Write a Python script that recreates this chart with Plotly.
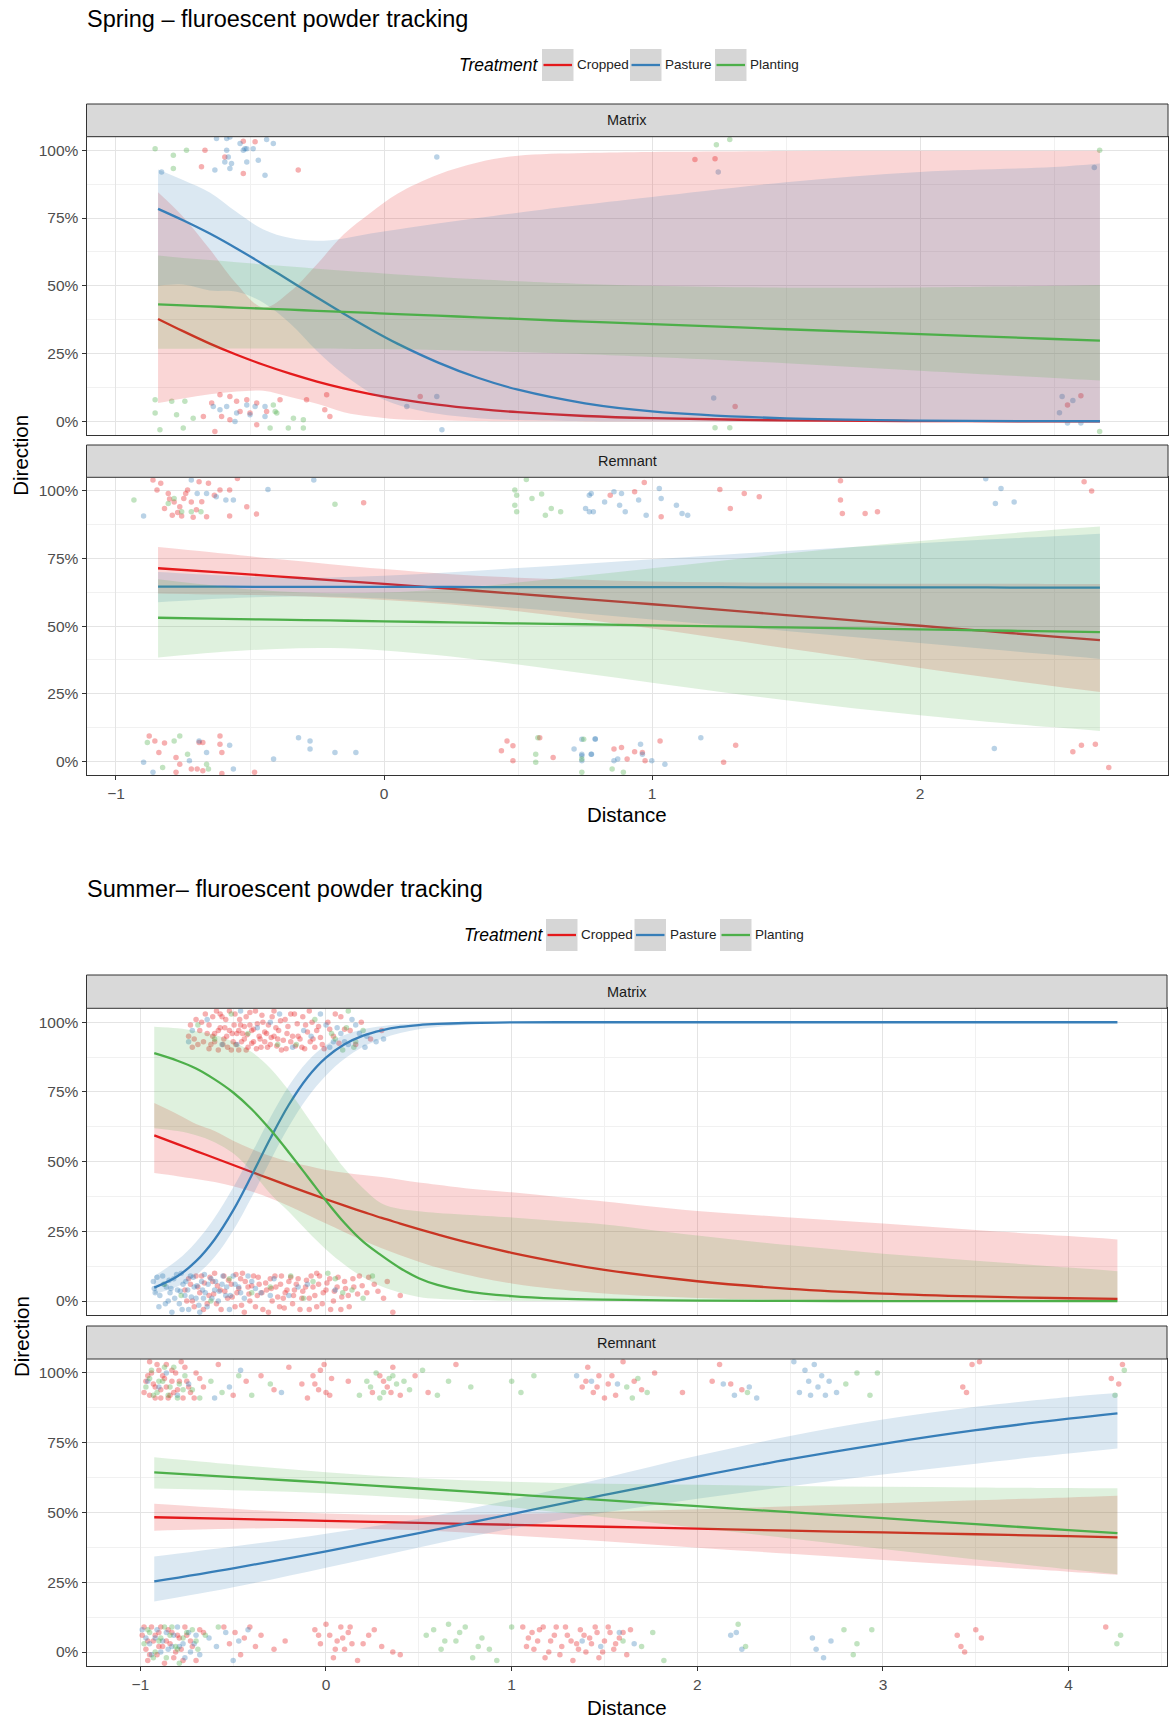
import plotly.graph_objects as go

# ---------------------------------------------------------------- data
TREATMENTS = ["Cropped", "Pasture", "Planting"]
COLORS = {"Cropped": "#E41A1C", "Pasture": "#377EB8", "Planting": "#4DAF4A"}

Y_TICKS = [0, 0.25, 0.5, 0.75, 1.0]
Y_TICK_TEXT = ["0%", "25%", "50%", "75%", "100%"]
SPRING_X_TICKS = [-1, 0, 1, 2]
SPRING_X_TEXT = ["\u22121", "0", "1", "2"]
SUMMER_X_TICKS = [-1, 0, 1, 2, 3, 4]
SUMMER_X_TEXT = ["\u22121", "0", "1", "2", "3", "4"]

# Spring / Matrix fitted curves
spr_mat_x = [-0.843, -0.75, -0.65, -0.55, -0.45, -0.35, -0.25, -0.15, -0.05, 0.05,
             0.2, 0.35, 0.5, 0.75, 1.0, 1.5, 2.0, 2.5, 2.671]
spr_mat_crop_fit = [0.378, 0.333, 0.287, 0.246, 0.209, 0.176, 0.147, 0.122, 0.101, 0.0835,
                    0.062, 0.046, 0.034, 0.020, 0.012, 0.0042, 0.0014, 0.0005, 0.00035]
spr_mat_crop_hi = [0.845, 0.755, 0.635, 0.507, 0.42, 0.479, 0.58, 0.69, 0.77, 0.84,
                   0.91, 0.955, 0.98, 0.99, 0.994, 0.997, 0.998, 0.998, 0.998]
spr_mat_crop_lo = [0.068, 0.085, 0.10, 0.11, 0.113, 0.09, 0.065, 0.034, 0.018, 0.008,
                   0.004, 0.0015, 0.0005, 0.0002, 0.0001, 0.0, 0.0, 0.0, 0.0]
spr_mat_past_fit = [0.784, 0.742, 0.693, 0.638, 0.579, 0.518, 0.457, 0.397, 0.340, 0.287,
                    0.218, 0.161, 0.117, 0.067, 0.0374, 0.0112, 0.0033, 0.00097, 0.00064]
spr_mat_past_hi = [0.929, 0.89, 0.844, 0.772, 0.708, 0.676, 0.666, 0.675, 0.693, 0.708,
                   0.73, 0.75, 0.77, 0.80, 0.828, 0.882, 0.92, 0.938, 0.951]
spr_mat_past_lo = [0.50, 0.505, 0.483, 0.478, 0.438, 0.361, 0.26, 0.173, 0.105, 0.062,
                   0.028, 0.012, 0.0053, 0.0013, 0.0003, 0.00002, 0.0, 0.0, 0.0]
spr_mat_plant_fit = [0.432, 0.428, 0.424, 0.420, 0.416, 0.412, 0.408, 0.404, 0.400, 0.396,
                     0.390, 0.384, 0.378, 0.368, 0.359, 0.340, 0.322, 0.304, 0.298]
spr_mat_plant_hi = [0.612, 0.603, 0.595, 0.587, 0.579, 0.571, 0.563, 0.556, 0.549, 0.542,
                    0.533, 0.524, 0.517, 0.507, 0.500, 0.493, 0.494, 0.500, 0.503]
spr_mat_plant_lo = [0.268, 0.268, 0.269, 0.269, 0.269, 0.269, 0.269, 0.268, 0.267, 0.266,
                    0.263, 0.260, 0.256, 0.248, 0.238, 0.215, 0.187, 0.160, 0.151]

# Spring / Remnant fitted curves
spr_rem_x = [-0.843, -0.6, -0.4, -0.2, 0, 0.25, 0.5, 0.75, 1.0, 1.25, 1.5, 1.75, 2.0,
             2.25, 2.5, 2.671]
spr_rem_crop_fit = [0.714, 0.698, 0.684, 0.670, 0.656, 0.638, 0.619, 0.600, 0.581, 0.561,
                    0.541, 0.521, 0.5015, 0.4815, 0.4616, 0.448]
spr_rem_crop_hi = [0.792, 0.768, 0.748, 0.729, 0.711, 0.692, 0.679, 0.671, 0.665, 0.662,
                   0.660, 0.658, 0.657, 0.657, 0.656, 0.656]
spr_rem_crop_lo = [0.621, 0.617, 0.613, 0.606, 0.597, 0.580, 0.555, 0.525, 0.491, 0.455,
                   0.418, 0.382, 0.345, 0.311, 0.278, 0.257]
spr_rem_past_fit = [0.646, 0.646, 0.645, 0.645, 0.645, 0.645, 0.644, 0.644, 0.644, 0.644,
                    0.643, 0.643, 0.643, 0.643, 0.642, 0.642]
spr_rem_past_hi = [0.700, 0.687, 0.680, 0.680, 0.686, 0.699, 0.715, 0.731, 0.747, 0.763,
                   0.778, 0.792, 0.806, 0.820, 0.832, 0.841]
spr_rem_past_lo = [0.588, 0.602, 0.609, 0.609, 0.602, 0.586, 0.567, 0.547, 0.525, 0.504,
                   0.482, 0.460, 0.438, 0.416, 0.394, 0.379]
spr_rem_plant_fit = [0.531, 0.527, 0.524, 0.521, 0.518, 0.514, 0.510, 0.507, 0.503, 0.499,
                     0.4955, 0.492, 0.488, 0.484, 0.481, 0.478]
spr_rem_plant_hi = [0.673, 0.646, 0.629, 0.622, 0.624, 0.638, 0.661, 0.687, 0.714, 0.741,
                    0.768, 0.792, 0.815, 0.836, 0.856, 0.868]
spr_rem_plant_lo = [0.384, 0.405, 0.416, 0.419, 0.410, 0.388, 0.358, 0.325, 0.291, 0.258,
                    0.226, 0.197, 0.171, 0.147, 0.126, 0.113]

# Summer / Matrix fitted curves
sum_mat_x = [-0.925, -0.8, -0.7, -0.6, -0.5, -0.4, -0.3, -0.2, -0.1, 0, 0.1, 0.2, 0.3, 0.4,
             0.5, 0.6, 0.75, 1.0, 1.25, 1.5, 2.0, 2.5, 3.0, 3.5, 4.0, 4.263]
sum_mat_crop_fit = [0.594, 0.563, 0.538, 0.513, 0.488, 0.463, 0.438, 0.413, 0.389, 0.365,
                    0.342, 0.320, 0.298, 0.278, 0.258, 0.239, 0.212, 0.173, 0.140, 0.112,
                    0.071, 0.044, 0.027, 0.0165, 0.010, 0.0077]
sum_mat_crop_hi = [0.71, 0.67, 0.635, 0.61, 0.575, 0.545, 0.52, 0.50, 0.485, 0.47, 0.46,
                   0.452, 0.445, 0.435, 0.425, 0.417, 0.405, 0.39, 0.373, 0.357, 0.323,
                   0.30, 0.278, 0.255, 0.233, 0.221]
sum_mat_crop_lo = [0.459, 0.448, 0.438, 0.427, 0.412, 0.393, 0.369, 0.341, 0.310, 0.278,
                   0.247, 0.217, 0.189, 0.164, 0.141, 0.12, 0.0956, 0.0632, 0.042, 0.0267,
                   0.011, 0.0045, 0.0018, 0.0007, 0.0003, 0.0002]
sum_mat_past_fit = [0.048, 0.089, 0.143, 0.221, 0.325, 0.451, 0.583, 0.704, 0.802, 0.873,
                    0.921, 0.952, 0.971, 0.983, 0.990, 0.994, 0.9973, 0.9993, 1.0, 1.0,
                    1.0, 1.0, 1.0, 1.0, 1.0, 1.0]
sum_mat_past_hi = [0.090, 0.147, 0.212, 0.299, 0.407, 0.530, 0.658, 0.772, 0.859, 0.918,
                   0.954, 0.975, 0.986, 0.9926, 0.996, 0.9979, 0.9992, 1.0, 1.0, 1.0,
                   1.0, 1.0, 1.0, 1.0, 1.0, 1.0]
sum_mat_past_lo = [0.0248, 0.0525, 0.093, 0.158, 0.253, 0.373, 0.503, 0.626, 0.729, 0.809,
                   0.869, 0.912, 0.941, 0.961, 0.975, 0.983, 0.991, 0.997, 0.999, 0.9996,
                   1.0, 1.0, 1.0, 1.0, 1.0, 1.0]
sum_mat_plant_fit = [0.889, 0.862, 0.834, 0.795, 0.748, 0.688, 0.615, 0.533, 0.447, 0.36,
                     0.28, 0.213, 0.163, 0.118, 0.082, 0.058, 0.036, 0.018, 0.009, 0.005,
                     0.0015, 0.0004, 0.0001, 0.00003, 0.00001, 0.00001]
sum_mat_plant_hi = [0.984, 0.978, 0.968, 0.955, 0.93, 0.893, 0.835, 0.755, 0.66, 0.565,
                    0.475, 0.405, 0.35, 0.33, 0.322, 0.316, 0.31, 0.30, 0.287, 0.275,
                    0.235, 0.20, 0.17, 0.145, 0.12, 0.107]
sum_mat_plant_lo = [0.62, 0.61, 0.595, 0.57, 0.53, 0.465, 0.385, 0.32, 0.25, 0.185, 0.13,
                    0.085, 0.052, 0.03, 0.015, 0.008, 0.004, 0.001, 0.0003, 0.0001,
                    0.0, 0.0, 0.0, 0.0, 0.0, 0.0]

# Summer / Remnant fitted curves
sum_rem_x = [-0.925, -0.5, 0, 0.5, 1.0, 1.5, 2.0, 2.5, 3.0, 3.5, 4.0, 4.263]
sum_rem_crop_fit = [0.483, 0.477, 0.470, 0.463, 0.456, 0.449, 0.442, 0.435, 0.4285, 0.422,
                    0.415, 0.411]
sum_rem_crop_hi = [0.531, 0.513, 0.496, 0.490, 0.4945, 0.5025, 0.512, 0.522, 0.533, 0.544,
                   0.554, 0.560]
sum_rem_crop_lo = [0.435, 0.442, 0.444, 0.436, 0.418, 0.397, 0.374, 0.352, 0.330, 0.309,
                   0.288, 0.277]
sum_rem_past_fit = [0.253, 0.30, 0.361, 0.426, 0.4945, 0.563, 0.629, 0.691, 0.746, 0.795,
                    0.836, 0.855]
sum_rem_past_hi = [0.342, 0.378, 0.424, 0.478, 0.546, 0.624, 0.703, 0.774, 0.833, 0.879,
                   0.914, 0.928]
sum_rem_past_lo = [0.181, 0.232, 0.302, 0.375, 0.443, 0.50, 0.549, 0.594, 0.636, 0.675,
                   0.711, 0.729]
sum_rem_plant_fit = [0.644, 0.627, 0.607, 0.586, 0.565, 0.544, 0.5225, 0.501, 0.4795, 0.458,
                     0.437, 0.426]
sum_rem_plant_hi = [0.698, 0.672, 0.644, 0.623, 0.610, 0.603, 0.599, 0.595, 0.592, 0.590,
                    0.588, 0.587]
sum_rem_plant_lo = [0.586, 0.580, 0.569, 0.549, 0.519, 0.483, 0.445, 0.407, 0.369, 0.332,
                    0.297, 0.279]

# Jittered observations (distance, direction)
spr_mat_pts_crop = [
    (-0.668, 1.00), (-0.594, 0.975), (-0.481, 1.031), (-0.681, 0.939), (-0.525, 0.914),
    (-0.32, 0.927), (-0.525, 1.033), (1.16, 0.966), (1.235, 0.969),
    (-0.612, 0.098), (-0.575, 0.092), (-0.643, 0.068), (-0.55, 0.074), (-0.512, 0.08),
    (-0.475, 0.068), (-0.438, 0.037), (-0.388, 0.08), (-0.289, 0.08), (-0.214, 0.098),
    (-0.221, 0.043), (-0.202, 0.018), (-0.674, 0.018), (-0.606, 0.018), (-0.575, 0.006),
    (-0.537, 0.037), (-0.5, 0.031), (-0.631, -0.037), (-0.475, -0.012), (0.135, 0.092),
    (1.31, 0.055), (2.55, 0.061), (2.6, 0.095),
]
spr_mat_pts_past = [
    (-0.625, 1.043), (-0.587, 1.043), (-0.575, 1.049), (-0.537, 1.025), (-0.525, 1.0),
    (-0.519, 1.006), (-0.512, 1.006), (-0.488, 1.006), (-0.587, 1.0), (-0.581, 0.975),
    (-0.594, 0.957), (-0.569, 0.951), (-0.575, 0.933), (-0.631, 0.927), (-0.512, 0.957),
    (-0.469, 0.963), (-0.444, 0.908), (-0.413, 1.025), (-0.438, 1.04), (-0.83, 0.92),
    (0.197, 0.975), (1.247, 0.92), (2.65, 0.936),
    (-0.637, 0.055), (-0.612, 0.043), (-0.587, 0.055), (-0.55, 0.031), (-0.512, 0.061),
    (-0.481, 0.055), (-0.444, 0.055), (-0.556, 0.0), (-0.444, 0.018), (-0.5, 0.025),
    (0.085, 0.055), (0.197, 0.092), (0.216, -0.031), (1.23, 0.086), (2.52, 0.032),
    (2.53, 0.092), (2.57, 0.077), (2.55, -0.006), (2.6, -0.006),
]
spr_mat_pts_plant = [
    (-0.854, 1.006), (-0.786, 0.982), (-0.737, 1.0), (-0.786, 0.933), (1.24, 1.02),
    (1.29, 1.04), (2.67, 1.0),
    (-0.854, 0.08), (-0.854, 0.031), (-0.792, 0.074), (-0.774, 0.025), (-0.743, 0.074),
    (-0.712, 0.012), (-0.413, 0.061), (-0.406, 0.037), (-0.338, 0.012), (-0.301, 0.006),
    (-0.301, -0.024), (-0.836, -0.031), (-0.749, -0.024), (-0.425, -0.024), (-0.357, -0.024),
    (-0.4, 0.031), (1.235, -0.023), (1.29, -0.023), (2.67, -0.037),
]

spr_rem_pts_crop = [
    (-0.862, 1.04), (-0.847, 1.003), (-0.833, 1.028), (-0.805, 0.99), (-0.783, 0.959),
    (-0.762, 0.941), (-0.747, 0.972), (-0.733, 1.003), (-0.719, 0.959), (-0.69, 1.034),
    (-0.655, 1.028), (-0.633, 0.984), (-0.612, 1.003), (-0.576, 1.003), (-0.547, 1.046),
    (-0.512, 0.941), (-0.476, 0.914), (-0.819, 0.935), (-0.79, 0.91), (-0.755, 0.907),
    (-0.712, 0.902), (-0.662, 0.904), (-0.576, 0.907), (-0.076, 0.956), (-0.8, 0.97),
    (-0.77, 0.92), (-0.74, 0.99), (-0.70, 0.93), (-0.68, 0.96),
    (0.844, 0.984), (0.935, 0.997), (0.971, 1.031), (1.034, 0.904), (1.253, 1.005),
    (1.344, 0.99), (1.40, 0.978), (1.292, 0.935), (1.703, 1.037), (1.703, 0.966),
    (1.71, 0.916), (1.795, 0.916), (1.841, 0.923), (2.612, 1.034), (2.64, 0.999),
    (-0.876, 0.094), (-0.855, 0.076), (-0.84, 0.033), (-0.819, 0.068), (-0.776, 0.015),
    (-0.762, -0.01), (-0.69, 0.07), (-0.676, 0.07), (-0.612, 0.094), (-0.605, 0.033),
    (-0.612, 0.064), (-0.483, -0.04), (-0.719, -0.028), (-0.697, -0.028), (-0.676, -0.034),
    (-0.776, -0.04), (-0.605, -0.044), (0.459, 0.076), (0.481, 0.058), (0.438, 0.04),
    (0.481, 0.003), (0.631, 0.015), (0.581, 0.088),
    (0.858, 0.046), (0.886, 0.052), (0.907, 0.009), (0.935, 0.036), (0.964, 0.033),
    (1.03, 0.076), (0.974, 0.003), (1.267, -0.003), (1.312, 0.06), (2.57, 0.036),
    (2.602, 0.06), (2.654, 0.064), (2.704, -0.022),
]
spr_rem_pts_past = [
    (-0.897, 0.907), (-0.719, 1.04), (-0.697, 0.99), (-0.662, 0.99), (-0.626, 0.978),
    (-0.59, 0.966), (-0.562, 0.966), (-0.433, 1.005), (-0.262, 1.04), (0.752, 0.935),
    (0.766, 0.923), (0.773, 0.99), (0.766, 0.984), (0.781, 0.923), (0.823, 0.959),
    (0.858, 0.997), (0.886, 0.99), (0.879, 0.947), (0.90, 0.923), (0.95, 0.966),
    (0.978, 0.91), (1.027, 1.009), (1.034, 0.972), (1.091, 0.947), (1.112, 0.916),
    (1.133, 0.91), (2.302, 1.009), (2.281, 0.953), (2.351, 0.959), (2.245, 1.045),
    (-0.897, -0.003), (-0.862, -0.04), (-0.69, 0.076), (-0.662, 0.033), (-0.726, 0.003),
    (-0.576, 0.06), (-0.562, -0.028), (-0.319, 0.088), (-0.276, 0.076), (-0.276, 0.046),
    (-0.412, 0.009), (-0.183, 0.033), (-0.105, 0.033), (0.709, 0.046), (0.738, 0.027),
    (0.773, 0.027), (0.738, 0.003), (0.738, 0.082), (0.788, 0.082), (0.738, 0.021),
    (0.788, 0.084), (0.774, 0.027), (0.858, 0.003), (0.872, 0.009), (0.957, 0.064),
    (0.964, 0.027), (0.999, 0.003), (1.048, -0.01), (1.182, 0.088), (2.277, 0.048),
]
spr_rem_pts_plant = [
    (-0.933, 0.966), (-0.805, 0.953), (-0.783, 0.972), (-0.755, 0.923), (-0.719, 0.923),
    (-0.683, 0.923), (-0.183, 0.95), (0.488, 1.003), (0.495, 0.984), (0.552, 0.972),
    (0.588, 0.988), (0.488, 0.947), (0.495, 0.923), (0.624, 0.935), (0.602, 0.91),
    (0.659, 0.923), (0.531, 1.042),
    (-0.883, 0.07), (-0.783, 0.076), (-0.762, 0.094), (-0.733, 0.027), (-0.662, -0.01),
    (-0.826, -0.022), (-0.655, -0.028), (0.574, 0.088), (0.566, 0.027), (0.566, -0.003),
    (0.738, -0.04), (0.745, 0.082), (0.738, 0.009), (0.851, -0.028), (0.893, -0.04),
]

sum_mat_pts_crop = [
    # upper band
    (-0.74, 0.95), (-0.72, 0.91), (-0.70, 1.01), (-0.68, 0.97), (-0.66, 0.93), (-0.65, 1.03),
    (-0.63, 0.99), (-0.62, 0.92), (-0.60, 0.96), (-0.59, 1.04), (-0.58, 0.90), (-0.57, 0.98),
    (-0.55, 0.94), (-0.54, 1.01), (-0.53, 0.91), (-0.52, 0.97), (-0.50, 0.93), (-0.49, 1.03),
    (-0.48, 0.96), (-0.47, 0.90), (-0.46, 0.99), (-0.44, 0.94), (-0.43, 1.02), (-0.42, 0.91),
    (-0.40, 0.97), (-0.39, 0.93), (-0.38, 1.04), (-0.36, 0.95), (-0.35, 0.91), (-0.34, 1.00),
    (-0.32, 0.96), (-0.30, 0.92), (-0.29, 1.02), (-0.27, 0.98), (-0.26, 0.94), (-0.24, 0.90),
    (-0.22, 1.01), (-0.21, 0.96), (-0.19, 0.93), (-0.17, 1.03), (-0.15, 0.95), (-0.13, 0.91),
    (-0.11, 0.99), (-0.09, 1.04), (-0.07, 0.94), (-0.05, 0.97), (-0.02, 0.92), (0.01, 1.00),
    (0.04, 0.95), (0.08, 1.02), (0.13, 0.97), (0.24, 0.94), (-0.61, 0.95), (-0.45, 0.96),
    (-0.33, 0.93), (-0.56, 1.02), (-0.41, 0.99), (-0.28, 0.95),
    (-0.73, 0.99), (-0.71, 0.94), (-0.69, 0.92), (-0.67, 1.00), (-0.64, 0.96), (-0.63, 0.905),
    (-0.61, 1.02), (-0.60, 0.93), (-0.58, 0.97), (-0.57, 1.03), (-0.555, 0.92), (-0.545, 0.98),
    (-0.535, 0.95), (-0.52, 1.04), (-0.51, 0.90), (-0.505, 0.96), (-0.495, 0.99),
    (-0.485, 0.92), (-0.47, 0.97), (-0.465, 1.01), (-0.455, 0.93), (-0.44, 0.985),
    (-0.43, 0.90), (-0.425, 0.955), (-0.41, 1.035), (-0.40, 0.925), (-0.39, 0.975),
    (-0.375, 0.905), (-0.37, 0.995), (-0.355, 0.94), (-0.345, 1.025), (-0.33, 0.965),
    (-0.315, 0.91), (-0.31, 0.99), (-0.295, 0.945), (-0.28, 1.04), (-0.265, 0.915),
    (-0.255, 0.97), (-0.245, 1.005), (-0.23, 0.935), (-0.215, 0.905), (-0.205, 0.985),
    (-0.19, 1.03), (-0.18, 0.95), (-0.165, 0.915), (-0.155, 0.995), (-0.14, 0.94),
    (-0.125, 1.02), (-0.115, 0.905), (-0.10, 0.965), (-0.085, 0.93), (-0.075, 1.0),
    (-0.06, 0.91), (-0.04, 0.985), (-0.03, 0.945), (-0.01, 0.905), (0.02, 0.975),
    (0.05, 1.03), (0.07, 0.925), (0.10, 0.975), (0.16, 0.92), (0.19, 1.0), (0.30, 0.97),
    # lower band
    (-0.76, 0.04), (-0.74, 0.08), (-0.72, 0.00), (-0.69, 0.05), (-0.67, 0.09), (-0.66, -0.03),
    (-0.63, 0.02), (-0.61, 0.07), (-0.59, -0.01), (-0.57, 0.04), (-0.55, 0.09), (-0.53, 0.01),
    (-0.51, 0.06), (-0.49, -0.02), (-0.48, 0.03), (-0.46, 0.08), (-0.44, -0.04), (-0.42, 0.05),
    (-0.41, 0.00), (-0.39, 0.09), (-0.37, 0.02), (-0.36, 0.06), (-0.34, -0.03), (-0.32, 0.04),
    (-0.30, 0.08), (-0.29, 0.00), (-0.27, 0.05), (-0.25, -0.02), (-0.24, 0.09), (-0.22, 0.03),
    (-0.20, 0.07), (-0.18, -0.01), (-0.17, 0.04), (-0.15, 0.08), (-0.13, 0.01), (-0.11, 0.05),
    (-0.09, -0.03), (-0.08, 0.09), (-0.06, 0.02), (-0.04, 0.06), (-0.02, -0.01), (0.00, 0.04),
    (0.02, 0.08), (0.04, 0.00), (0.06, 0.05), (0.08, -0.03), (0.10, 0.07), (0.12, 0.02),
    (0.15, 0.05), (0.18, 0.09), (0.22, 0.03), (0.26, 0.06), (0.31, 0.01), (0.36, -0.04),
    (-0.60, 0.10), (-0.45, 0.10), (-0.23, 0.01), (-0.05, 0.10),
    (-0.75, 0.00), (-0.73, 0.06), (-0.71, -0.02), (-0.70, 0.09), (-0.68, 0.03), (-0.655, 0.065),
    (-0.64, -0.01), (-0.625, 0.085), (-0.605, 0.025), (-0.585, 0.055), (-0.565, -0.03),
    (-0.545, 0.035), (-0.525, 0.075), (-0.505, 0.015), (-0.485, 0.095), (-0.47, 0.045),
    (-0.455, -0.015), (-0.435, 0.07), (-0.415, 0.025), (-0.40, 0.055), (-0.38, -0.02),
    (-0.365, 0.085), (-0.345, 0.03), (-0.325, 0.065), (-0.31, -0.04), (-0.295, 0.045),
    (-0.275, 0.09), (-0.26, 0.015), (-0.245, 0.06), (-0.225, -0.025), (-0.21, 0.04),
    (-0.19, 0.085), (-0.175, 0.02), (-0.16, 0.06), (-0.14, -0.03), (-0.125, 0.035),
    (-0.105, 0.075), (-0.09, 0.01), (-0.07, 0.05), (-0.05, -0.02), (-0.035, 0.09),
    (-0.015, 0.03), (0.005, 0.065), (0.025, -0.03), (0.045, 0.035), (0.065, 0.085),
    (0.085, 0.015), (0.105, 0.045), (0.125, -0.02), (0.145, 0.08), (0.17, 0.025),
    (0.195, 0.055), (0.23, 0.085), (0.28, 0.035), (0.33, 0.07), (0.40, 0.02),
]
sum_mat_pts_past = [
    (-0.72, 0.97), (-0.56, 0.92), (-0.37, 0.98), (-0.25, 1.03), (-0.12, 0.97), (-0.03, 1.03),
    (0.02, 0.91), (0.06, 0.98), (0.10, 0.93), (0.14, 1.01), (0.18, 0.96), (0.21, 0.91),
    (-0.46, 1.04), (-0.74, 0.93), (-0.64, 1.01), (-0.48, 0.92), (-0.30, 1.00), (-0.18, 0.91),
    (-0.08, 0.95), (0.00, 0.99), (0.04, 0.93), (0.08, 0.96), (0.12, 0.92), (0.16, 0.99),
    (0.22, 0.95), (0.27, 0.93), (0.31, 0.94),
    (-0.93, 0.07), (-0.92, 0.03), (-0.90, -0.02), (-0.88, 0.09), (-0.86, 0.05), (-0.85, 0.00),
    (-0.83, -0.04), (-0.82, 0.08), (-0.80, 0.04), (-0.79, -0.01), (-0.77, 0.06), (-0.76, 0.02),
    (-0.74, -0.03), (-0.73, 0.09), (-0.71, 0.05), (-0.70, 0.01), (-0.68, -0.04), (-0.67, 0.07),
    (-0.65, 0.03), (-0.64, -0.02), (-0.62, 0.08), (-0.60, 0.04), (-0.58, 0.00), (-0.56, 0.06),
    (-0.54, 0.02), (-0.52, -0.03), (-0.50, 0.09), (-0.47, 0.05), (-0.44, 0.01), (-0.40, 0.07),
    (-0.35, 0.03), (-0.28, 0.08), (-0.20, 0.02), (-0.10, 0.06), (0.05, 0.04), (-0.84, 0.03),
    (-0.78, 0.10), (-0.66, 0.01),
    (-0.925, 0.045), (-0.91, 0.085), (-0.895, 0.02), (-0.875, 0.06), (-0.865, -0.01),
    (-0.845, 0.075), (-0.835, 0.045), (-0.815, 0.01), (-0.805, 0.095), (-0.785, 0.035),
    (-0.775, -0.03), (-0.755, 0.07), (-0.745, 0.04), (-0.725, 0.015), (-0.715, 0.085),
    (-0.695, 0.055), (-0.685, -0.015), (-0.665, 0.04), (-0.655, 0.095), (-0.635, 0.06),
    (-0.615, 0.01), (-0.595, 0.07), (-0.575, 0.035), (-0.555, 0.09), (-0.535, 0.05),
    (-0.515, 0.02), (-0.49, 0.06), (-0.46, 0.03), (-0.42, 0.09), (-0.38, 0.045),
    (-0.30, 0.02), (-0.15, 0.05),
]
sum_mat_pts_plant = [
    (-0.69, 0.99), (-0.51, 1.03), (-0.16, 0.92), (-0.06, 1.01), (0.03, 0.96), (0.09, 0.90),
    (0.12, 1.04), (0.16, 0.93), (-0.60, 0.94), (-0.42, 0.96), (-0.26, 0.92), (0.05, 0.94),
    (0.11, 0.98), (0.15, 0.91), (0.20, 0.97),
    (-0.87, 0.06), (-0.62, 0.00), (-0.40, 0.03), (-0.19, 0.09), (-0.07, 0.07), (0.01, 0.10),
    (0.09, 0.03), (0.20, 0.01), (-0.78, 0.02), (-0.52, 0.08), (-0.30, 0.05), (-0.12, 0.01),
    (0.05, 0.08), (0.14, 0.04), (0.25, 0.09),
]

sum_rem_pts_crop = [
    (-0.98, 0.93), (-0.96, 0.99), (-0.95, 1.04), (-0.93, 0.96), (-0.92, 0.91), (-0.90, 1.01),
    (-0.89, 0.94), (-0.87, 0.98), (-0.86, 1.03), (-0.84, 0.92), (-0.83, 0.97), (-0.81, 1.00),
    (-0.80, 0.94), (-0.78, 1.04), (-0.77, 0.91), (-0.75, 0.97), (-0.73, 0.93), (-0.70, 1.00),
    (-0.66, 0.95), (-0.58, 1.03), (-0.50, 0.92), (-0.43, 0.97), (-0.35, 0.99), (-0.28, 0.94),
    (-0.20, 1.02), (-0.13, 0.96), (-0.10, 0.91), (-0.07, 0.99), (-0.04, 0.94), (-0.01, 1.03),
    (0.02, 0.92), (0.12, 0.97), (0.25, 0.93), (0.29, 0.99), (0.33, 0.95), (0.36, 1.02),
    (0.40, 0.92), (0.48, 0.99), (0.55, 0.93), (0.70, 1.03), (1.38, 0.95), (1.41, 1.02),
    (1.44, 0.93), (1.47, 0.99), (1.52, 0.96), (1.56, 0.92), (1.60, 1.04), (1.66, 0.97),
    (1.70, 0.94), (1.77, 1.00), (1.92, 0.93), (2.08, 0.97), (2.12, 1.03), (2.18, 0.96),
    (2.24, 0.94), (3.43, 0.95), (3.45, 0.93), (3.48, 1.03), (3.52, 1.04), (4.23, 0.98),
    (4.27, 0.96), (4.29, 1.03),
    (-0.97, 0.97), (-0.95, 0.92), (-0.94, 1.00), (-0.92, 0.95), (-0.91, 1.03), (-0.89, 0.91),
    (-0.88, 0.99), (-0.86, 0.95), (-0.85, 0.91), (-0.83, 1.01), (-0.82, 0.93), (-0.79, 0.97),
    (-0.76, 1.02), (-0.74, 0.95), (-0.71, 0.91), (-0.68, 0.98), (-0.06, 0.96), (-0.03, 1.01),
    (0.00, 0.93), (0.03, 0.98), (0.31, 0.97), (0.35, 0.93), (1.40, 0.97), (1.46, 0.95),
    (1.50, 0.91), (1.54, 0.99),
    (-0.99, 0.06), (-0.97, 0.01), (-0.96, -0.03), (-0.94, 0.09), (-0.93, 0.04), (-0.91, -0.01),
    (-0.90, 0.07), (-0.88, 0.02), (-0.87, -0.04), (-0.85, 0.08), (-0.84, 0.03), (-0.82, -0.02),
    (-0.80, 0.06), (-0.78, 0.01), (-0.76, 0.09), (-0.73, 0.04), (-0.70, -0.03), (-0.66, 0.07),
    (-0.55, 0.09), (-0.52, 0.03), (-0.49, 0.07), (-0.46, -0.01), (-0.44, 0.05), (-0.41, 0.09),
    (-0.38, 0.02), (-0.35, 0.06), (-0.28, 0.01), (-0.22, 0.04), (-0.06, 0.08), (-0.03, 0.03),
    (0.00, 0.10), (0.02, 0.06), (0.04, -0.02), (0.06, 0.04), (0.08, 0.09), (0.10, 0.01),
    (0.12, 0.07), (0.14, 0.03), (0.17, -0.03), (0.26, 0.08), (0.30, 0.02), (0.36, 0.00),
    (0.40, -0.01), (1.06, 0.09), (1.09, 0.05), (1.12, 0.01), (1.15, 0.08), (1.18, -0.02),
    (1.21, 0.04), (1.24, 0.09), (1.27, 0.02), (1.30, 0.06), (1.33, -0.03), (1.35, 0.03),
    (1.37, 0.08), (1.40, 0.00), (1.42, 0.05), (1.45, 0.09), (1.47, -0.02), (1.50, 0.04),
    (1.53, 0.07), (1.55, 0.01), (1.58, 0.05), (1.62, -0.01), (1.64, 0.08), (3.40, 0.06),
    (3.42, 0.02), (3.44, 0.00), (3.50, 0.08), (3.53, 0.05), (4.20, 0.09),
    (-0.98, 0.09), (-0.96, 0.04), (-0.95, -0.01), (-0.92, 0.06), (-0.90, 0.02), (-0.89, 0.09),
    (-0.86, 0.04), (-0.83, 0.07), (-0.81, 0.00), (-0.79, 0.05), (-0.77, -0.03), (-0.75, 0.06),
    (-0.72, 0.02), (-0.68, 0.08), (1.08, 0.02), (1.11, 0.07), (1.14, 0.04), (1.17, 0.09),
    (1.20, 0.00), (1.23, 0.06), (1.26, -0.01), (1.29, 0.09), (1.32, 0.04), (1.36, 0.01),
    (1.39, 0.06), (1.43, 0.03), (1.46, 0.07), (1.49, 0.00), (1.52, 0.09), (1.56, 0.03),
    (1.60, 0.07), (0.05, 0.01), (0.09, 0.05), (0.13, 0.09), (-0.04, 0.06), (0.20, 0.03),
    (0.23, 0.06),
]
sum_rem_pts_past = [
    (-0.96, 0.97), (-0.90, 0.95), (-0.86, 1.00), (-0.80, 0.92), (-0.74, 0.96), (-0.60, 0.91),
    (-0.52, 0.95), (-0.46, 1.01), (-0.24, 0.93), (1.35, 0.99), (1.43, 0.97), (1.57, 0.96),
    (2.14, 0.96), (2.20, 0.92), (2.28, 0.95), (2.32, 0.91), (2.52, 1.04), (2.55, 0.93),
    (2.58, 1.01), (2.60, 0.97), (2.61, 0.92), (2.63, 1.03), (2.65, 0.95), (2.67, 0.99),
    (2.69, 0.92), (2.71, 0.97), (2.75, 0.93),
    (-0.97, 0.05), (-0.94, -0.01), (-0.91, 0.08), (-0.88, 0.04), (-0.85, 0.01), (-0.82, 0.06),
    (-0.79, 0.02), (-0.76, -0.02), (-0.74, 0.07), (-0.71, 0.03), (-0.68, -0.01), (-0.63, 0.05),
    (-0.59, 0.02), (-0.54, 0.07), (-0.50, -0.03), (-0.47, 0.04), (-0.42, 0.08), (1.38, 0.04),
    (1.48, 0.02), (1.58, 0.07), (1.66, 0.03), (2.18, 0.06), (2.21, 0.07), (2.24, 0.01),
    (2.62, 0.05), (2.64, 0.01), (2.68, -0.02), (2.72, 0.04),
    (-0.99, 0.08), (-0.95, 0.03), (-0.92, 0.05), (-0.89, 0.00), (-0.86, 0.07), (-0.83, 0.02),
    (-0.80, 0.09), (-0.77, 0.03), (-0.73, 0.00), (-0.70, 0.06),
]
sum_rem_pts_plant = [
    (-0.97, 0.95), (-0.94, 1.01), (-0.91, 0.93), (-0.88, 0.97), (-0.85, 0.92), (-0.82, 1.02),
    (-0.79, 0.96), (-0.76, 0.99), (-0.72, 0.94), (-0.68, 0.91), (-0.62, 0.97), (-0.56, 0.93),
    (-0.47, 0.99), (-0.40, 0.92), (-0.30, 0.96), (0.18, 0.92), (0.22, 0.97), (0.27, 1.00),
    (0.31, 0.93), (0.34, 0.98), (0.38, 0.96), (0.45, 0.94), (0.52, 1.01), (0.60, 0.92),
    (0.66, 0.97), (0.78, 0.95), (1.00, 0.97), (1.05, 0.93), (1.12, 0.99), (1.62, 0.95),
    (1.65, 0.91), (1.68, 0.98), (1.73, 0.93), (2.27, 0.93), (2.80, 0.96), (2.86, 1.00),
    (2.93, 0.92), (2.97, 1.00), (4.25, 0.92), (4.30, 1.01),
    (-0.95, 0.98), (-0.93, 0.92), (-0.90, 0.97), (-0.87, 1.02), (-0.84, 0.95), (-0.80, 0.91),
    (-0.77, 0.94), (0.24, 0.95), (0.29, 0.91), (0.36, 0.99), (0.42, 0.97),
    (-0.98, 0.03), (-0.95, 0.07), (-0.92, 0.00), (-0.89, 0.05), (-0.86, -0.02), (-0.83, 0.09),
    (-0.81, 0.02), (-0.79, -0.04), (-0.77, 0.05), (-0.72, 0.08), (-0.69, 0.01), (-0.65, 0.06),
    (-0.58, 0.09), (0.54, 0.06), (0.58, 0.08), (0.62, 0.01), (0.66, 0.10), (0.70, 0.04),
    (0.75, 0.09), (0.79, -0.02), (0.84, 0.05), (0.88, 0.01), (0.92, -0.03), (1.00, 0.09),
    (1.60, 0.04), (1.70, 0.02), (1.76, 0.07), (1.82, -0.03), (2.22, 0.10), (2.26, 0.02),
    (2.79, 0.08), (2.84, -0.01), (2.86, 0.03), (2.94, 0.08), (4.28, 0.06), (4.26, 0.03),
    (-0.96, 0.08), (-0.93, -0.02), (-0.90, 0.04), (-0.87, 0.09), (-0.84, 0.06), (-0.80, 0.01),
    (-0.75, 0.07), (-0.70, 0.04), (0.64, 0.04), (0.72, 0.07), (0.82, 0.02),
]

# ---------------------------------------------------------------- layout helpers
W, H = 1172, 1720
FONT = "Liberation Sans, Arial, sans-serif"
BORDER = "#333333"
STRIP_FILL = "#D9D9D9"


def px(x):
    return x / W


def py(y):
    return 1 - y / H


# panel boxes in pixels: left, top, right, bottom
PANELS = [
    ("x", "y", (86.5, 136.7, 1168, 435), "Matrix", (104, 136.7)),
    ("x2", "y2", (86.5, 477.3, 1168, 775), "Remnant", (445, 477.3)),
    ("x3", "y3", (86.5, 1008.3, 1167, 1315), "Matrix", (975, 1008.3)),
    ("x4", "y4", (86.5, 1359, 1167, 1666), "Remnant", (1326, 1359)),
]

PANEL_DATA = [
    (spr_mat_x,
     {"Cropped": (spr_mat_crop_fit, spr_mat_crop_lo, spr_mat_crop_hi, spr_mat_pts_crop),
      "Pasture": (spr_mat_past_fit, spr_mat_past_lo, spr_mat_past_hi, spr_mat_pts_past),
      "Planting": (spr_mat_plant_fit, spr_mat_plant_lo, spr_mat_plant_hi, spr_mat_pts_plant)}),
    (spr_rem_x,
     {"Cropped": (spr_rem_crop_fit, spr_rem_crop_lo, spr_rem_crop_hi, spr_rem_pts_crop),
      "Pasture": (spr_rem_past_fit, spr_rem_past_lo, spr_rem_past_hi, spr_rem_pts_past),
      "Planting": (spr_rem_plant_fit, spr_rem_plant_lo, spr_rem_plant_hi, spr_rem_pts_plant)}),
    (sum_mat_x,
     {"Cropped": (sum_mat_crop_fit, sum_mat_crop_lo, sum_mat_crop_hi, sum_mat_pts_crop),
      "Pasture": (sum_mat_past_fit, sum_mat_past_lo, sum_mat_past_hi, sum_mat_pts_past),
      "Planting": (sum_mat_plant_fit, sum_mat_plant_lo, sum_mat_plant_hi, sum_mat_pts_plant)}),
    (sum_rem_x,
     {"Cropped": (sum_rem_crop_fit, sum_rem_crop_lo, sum_rem_crop_hi, sum_rem_pts_crop),
      "Pasture": (sum_rem_past_fit, sum_rem_past_lo, sum_rem_past_hi, sum_rem_pts_past),
      "Planting": (sum_rem_plant_fit, sum_rem_plant_lo, sum_rem_plant_hi, sum_rem_pts_plant)}),
]


def rgba(hex_color, a):
    h = hex_color.lstrip("#")
    r, g, b = int(h[0:2], 16), int(h[2:4], 16), int(h[4:6], 16)
    return f"rgba({r},{g},{b},{a})"


fig = go.Figure()

for (xa, ya, _box, _lab, _strip), (grid_x, series) in zip(PANELS, PANEL_DATA):
    # jittered observations underneath
    for t in TREATMENTS:
        pts = series[t][3]
        fig.add_trace(go.Scatter(
            x=[p[0] for p in pts], y=[p[1] for p in pts], mode="markers",
            marker=dict(color=COLORS[t], size=5.5, opacity=0.35, line=dict(width=0)),
            xaxis=xa, yaxis=ya, hoverinfo="skip", showlegend=False))
    # confidence ribbons and fitted curves, one group at a time
    for t in TREATMENTS:
        fit, lo, hi, _ = series[t]
        fig.add_trace(go.Scatter(
            x=grid_x, y=lo, mode="lines", line=dict(width=0, shape="spline"),
            xaxis=xa, yaxis=ya, hoverinfo="skip", showlegend=False))
        fig.add_trace(go.Scatter(
            x=grid_x, y=hi, mode="lines", line=dict(width=0, shape="spline"),
            fill="tonexty", fillcolor=rgba(COLORS[t], 0.18),
            xaxis=xa, yaxis=ya, hoverinfo="skip", showlegend=False))
        fig.add_trace(go.Scatter(
            x=grid_x, y=fit, mode="lines",
            line=dict(color=COLORS[t], width=2.3, shape="spline"),
            xaxis=xa, yaxis=ya, hoverinfo="skip", showlegend=False))

grid_major = "#E4E4E4"
grid_minor = "#F1F1F1"

y_axis = dict(
    range=[-0.05, 1.05], tickmode="array", tickvals=Y_TICKS, ticktext=Y_TICK_TEXT,
    ticks="outside", ticklen=4, tickwidth=1, tickcolor=BORDER,
    tickfont=dict(family=FONT, size=15.5, color="#4D4D4D"),
    showgrid=True, gridcolor=grid_major, gridwidth=1,
    minor=dict(tickmode="array", tickvals=[0.125, 0.375, 0.625, 0.875],
               showgrid=True, gridcolor=grid_minor, gridwidth=1),
    showline=True, linecolor=BORDER, linewidth=1, mirror=True, zeroline=False,
)

layout_axes = {}
for i, (xa, ya, box, _lab, _strip) in enumerate(PANELS):
    left, top, right, bottom = box
    spring = i < 2
    x_rng = [-1.11, 2.925] if spring else [-1.29, 4.53]
    x_ticks = SPRING_X_TICKS if spring else SUMMER_X_TICKS
    x_text = SPRING_X_TEXT if spring else SUMMER_X_TEXT
    x_minor = [-0.5, 0.5, 1.5, 2.5] if spring else [-0.5, 0.5, 1.5, 2.5, 3.5, 4.5]
    bottom_panel = (i % 2 == 1)
    xkey = "xaxis" if xa == "x" else "xaxis" + xa[1:]
    ykey = "yaxis" if ya == "y" else "yaxis" + ya[1:]
    layout_axes[xkey] = dict(
        domain=[px(left), px(right)], anchor=ya, range=x_rng,
        tickmode="array", tickvals=x_ticks, ticktext=x_text,
        ticks="outside" if bottom_panel else "", ticklen=4, tickwidth=1, tickcolor=BORDER,
        showticklabels=bottom_panel,
        tickfont=dict(family=FONT, size=15.5, color="#4D4D4D"),
        showgrid=True, gridcolor=grid_major, gridwidth=1,
        minor=dict(tickmode="array", tickvals=x_minor, showgrid=True,
                   gridcolor=grid_minor, gridwidth=1),
        showline=True, linecolor=BORDER, linewidth=1, mirror=True, zeroline=False,
    )
    layout_axes[ykey] = dict(y_axis, domain=[py(bottom), py(top)], anchor=xa)

shapes = []
annotations = []

# facet strips
for xa, ya, box, label, strip in PANELS:
    left, _top, right, _bottom = box
    s_top, s_bot = strip
    shapes.append(dict(type="rect", xref="paper", yref="paper",
                       x0=px(left), x1=px(right), y0=py(s_bot), y1=py(s_top),
                       fillcolor=STRIP_FILL, line=dict(color=BORDER, width=1), layer="above"))
    annotations.append(dict(text=label, xref="paper", yref="paper",
                            x=px((left + right) / 2), y=py((s_top + s_bot) / 2),
                            xanchor="center", yanchor="middle", showarrow=False,
                            font=dict(family=FONT, size=14.5, color="#1A1A1A")))

# titles, legends and axis titles for both seasons
SEASONS = [
    dict(title="Spring \u2013 fluroescent powder tracking", title_y=19,
         legend_y=65, treat_x=457, keys=[542, 630, 715], dir_y=455.8, dist_y=815),
    dict(title="Summer\u2013 fluroescent powder tracking", title_y=889,
         legend_y=935, treat_x=462, keys=[546, 634.5, 720], dir_y=1337, dist_y=1707),
]
for s in SEASONS:
    annotations.append(dict(text=s["title"], xref="paper", yref="paper",
                            x=px(85), y=py(s["title_y"]), xanchor="left", yanchor="middle",
                            showarrow=False, font=dict(family=FONT, size=23.5, color="#000000")))
    annotations.append(dict(text="<i>Treatment</i>", xref="paper", yref="paper",
                            x=px(s["treat_x"]), y=py(s["legend_y"]), xanchor="left",
                            yanchor="middle", showarrow=False,
                            font=dict(family=FONT, size=17.5, color="#000000")))
    ky = s["legend_y"]
    for kx, t in zip(s["keys"], TREATMENTS):
        shapes.append(dict(type="rect", xref="paper", yref="paper",
                           x0=px(kx), x1=px(kx + 31.5), y0=py(ky + 16), y1=py(ky - 16),
                           fillcolor="#D6D6D6", line=dict(width=0)))
        shapes.append(dict(type="line", xref="paper", yref="paper",
                           x0=px(kx + 1.5), x1=px(kx + 30), y0=py(ky), y1=py(ky),
                           line=dict(color=COLORS[t], width=2.3)))
        annotations.append(dict(text=t, xref="paper", yref="paper",
                                x=px(kx + 33), y=py(ky), xanchor="left", yanchor="middle",
                                showarrow=False,
                                font=dict(family=FONT, size=13.5, color="#222222")))
    annotations.append(dict(text="Direction", xref="paper", yref="paper",
                            x=px(21), y=py(s["dir_y"]), xanchor="center", yanchor="middle",
                            textangle=-90, showarrow=False,
                            font=dict(family=FONT, size=20.5, color="#000000")))
    annotations.append(dict(text="Distance", xref="paper", yref="paper",
                            x=px(627), y=py(s["dist_y"]), xanchor="center", yanchor="middle",
                            showarrow=False,
                            font=dict(family=FONT, size=20.5, color="#000000")))

fig.update_layout(
    width=W, height=H, autosize=False,
    margin=dict(l=0, r=0, t=0, b=0, pad=0),
    paper_bgcolor="white", plot_bgcolor="white",
    showlegend=False, hovermode=False,
    font=dict(family=FONT),
    shapes=shapes, annotations=annotations,
    **layout_axes,
)

fig.write_html("out.html")
